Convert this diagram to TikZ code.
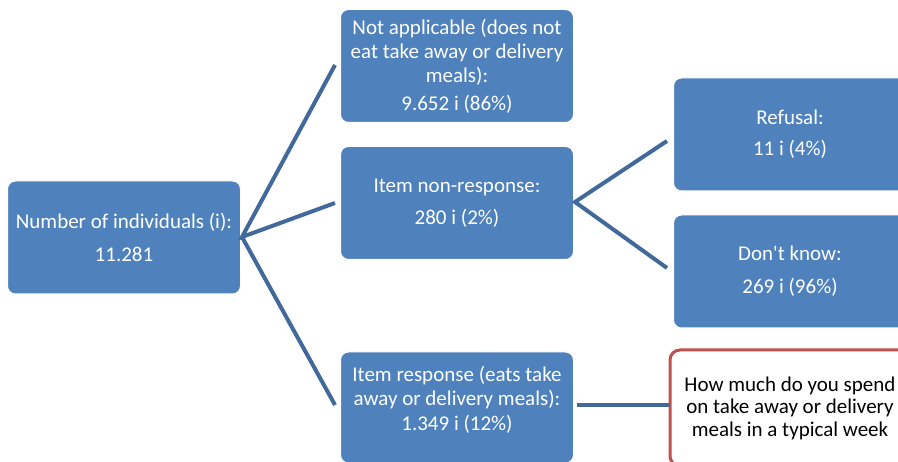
\documentclass[tikz,border=0pt]{standalone}
\usepackage{fontspec}
\setmainfont{Carlito}[Ligatures=TeXOff]
\definecolor{boxblue}{HTML}{4F81BD}
\definecolor{linkblue}{HTML}{41699C}
\definecolor{redline}{HTML}{C0504D}
\begin{document}
\begin{tikzpicture}[x=1pt,y=1pt,
  bluebox/.style={draw=white, line width=1pt, fill=boxblue, rounded corners=8pt,
    minimum width=233pt, minimum height=113pt, text=white, align=center,
    inner sep=0pt, font=\fontsize{21}{24}\selectfont},
  redbox/.style={draw=redline, line width=3pt, fill=white, rounded corners=10pt,
    minimum width=240pt, minimum height=116pt, text=black, align=center,
    inner sep=0pt, font=\fontsize{21}{22.5}\selectfont},
  link/.style={draw=linkblue, line width=4pt}]
\useasboundingbox (0,0) rectangle (898,462);
\clip (0,0) rectangle (898,462);
\node[bluebox] (root) at (124,224.5) {Number of individuals (i):\\[9pt]11.281};
\node[bluebox] (na) at (457,396) {Not applicable (does not\\eat take away or delivery\\meals):\\[4pt]9.652 i (86\%)};
\node[bluebox] (inr) at (457,259) {Item non-response:\\[8pt]280 i (2\%)};
\node[bluebox, minimum height=111pt] (ir) at (457,54.5) {Item response (eats take\\away or delivery meals):\\[1pt]1.349 i (12\%)\\[-5pt]};
\node[bluebox] (ref) at (790,327.5) {Refusal:\\[7pt]11 i (4\%)};
\node[bluebox] (dk) at (790,190.5) {Don't know:\\[9pt]269 i (96\%)};
\node[redbox] (q) at (790,54) {How much do you spend\\on take away or delivery\\meals in a typical week};
\coordinate (rs) at (242,225);
\coordinate (naend) at (335,397);
\coordinate (inrend) at (335,259);
\coordinate (irend) at (335,57);
\draw[link] (naend) -- (rs) -- (inrend);
\draw[link] (rs) -- (irend);
\coordinate (fs) at (575,260);
\coordinate (refend) at (667,321);
\coordinate (dkend) at (667,194);
\draw[link] (refend) -- (fs) -- (dkend);
\coordinate (ba) at (577,57);
\draw[link] (ba) -- (ba -| q.west);
\end{tikzpicture}
\end{document}
